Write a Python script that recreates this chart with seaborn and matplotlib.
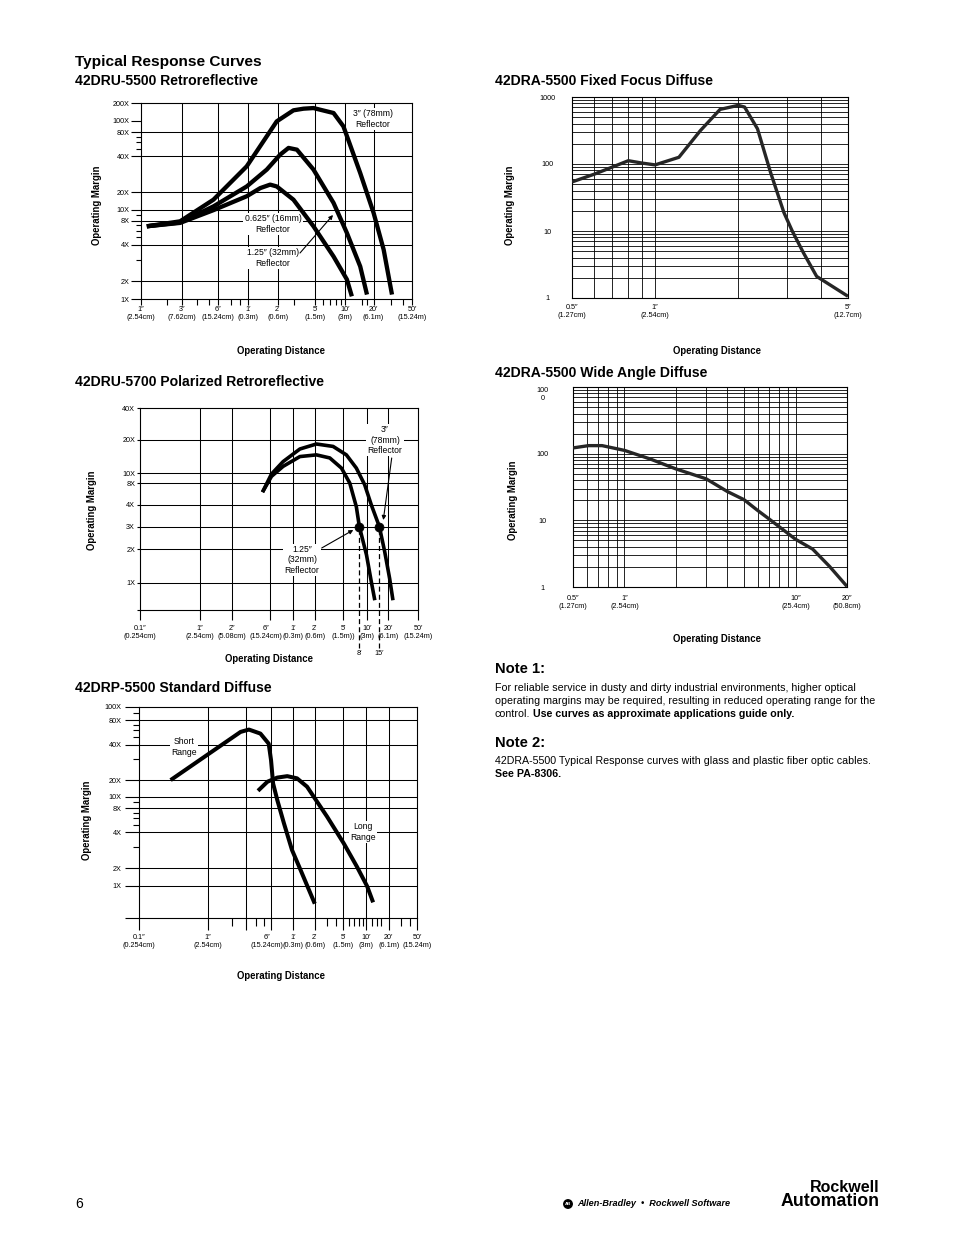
import numpy as np
import pandas as pd
import seaborn as sns
import matplotlib.pyplot as plt
from matplotlib import font_manager
from matplotlib.ticker import NullFormatter
from matplotlib.transforms import blended_transform_factory, ScaledTranslation

sns.set_style("ticks")

installed = {f.name for f in font_manager.fontManager.ttflist}
NARROW = "Liberation Sans Narrow" in installed
REG = ["Liberation Sans", "DejaVu Sans"]
COND = (["Liberation Sans Narrow"] + REG) if NARROW else REG
k = 1.0 if NARROW else 0.82  # narrow face is about 82% as wide

plt.rcParams["font.family"] = COND
plt.rcParams["axes.edgecolor"] = "black"
plt.rcParams["axes.linewidth"] = 0.8
plt.rcParams["xtick.color"] = "black"
plt.rcParams["ytick.color"] = "black"
plt.rcParams["text.color"] = "black"
plt.rcParams["axes.labelcolor"] = "black"

TICK_FS = 6.4 * k
NOTE_FS = 7.6 * k
LAB_FS = 8.5 * k

# ---------------- data (distance in inches, operating margin) ----------------
# 42DRU-5500 Retroreflective
dru55_3in_dist = [1.17, 2.87, 5.46, 11.7, 23.4, 35.2, 45, 57.5, 91.6, 115, 173, 240, 305, 372]
dru55_3in_marg = [6.8, 7.85, 14.9, 33, 98.7, 150, 160, 164, 135, 89.7, 29, 9.35, 3.64, 1.19]
dru55_125_dist = [1.17, 2.87, 5.46, 11.7, 18.6, 25.4, 31.2, 38.3, 57.5, 91.6, 125, 173, 204]
dru55_125_marg = [6.8, 7.6, 11.4, 22.4, 31, 42, 51, 48.5, 31, 13.1, 5.6, 2.65, 1.19]
dru55_0625_dist = [1.17, 2.87, 5.46, 11.7, 16, 20.1, 23.4, 35.2, 57.5, 91.6, 125, 141]
dru55_0625_marg = [6.8, 7.5, 9.9, 17.1, 21.7, 23.2, 22.4, 14.9, 6.8, 3.2, 2.07, 1.11]

# 42DRU-5700 Polarized Retroreflective
dru57_3in_dist = [4.86, 6.3, 8.9, 14.9, 25.3, 43.4, 66, 88, 112, 138, 180, 215, 252, 279]
dru57_3in_marg = [6.0, 9.8, 12.7, 16.5, 18.3, 17.4, 14.6, 11.1, 7.6, 4.0, 3.0, 1.9, 1.09, 0.64]
dru57_125_dist = [4.86, 6.3, 8.9, 14.9, 25.3, 39, 56.9, 72.8, 88, 96, 118, 138, 155]
dru57_125_marg = [6.0, 9.3, 11.5, 14.1, 14.6, 13.7, 11.1, 8.0, 3.9, 3.0, 1.78, 1.02, 0.64]
dru57_point_dist = [96, 180]
dru57_point_marg = [3, 3]
dru57_point_labels = ["8\u2032", "15\u2032"]

# 42DRP-5500 Standard Diffuse
drp_short_dist = [0.286, 2.55, 3.24, 4.5, 5.7, 6.1, 6.5, 7.4, 9.1, 11.7, 15.3, 19.9, 24]
drp_short_marg = [20, 57.4, 61.4, 54.7, 41, 29.5, 17.4, 9.4, 5.2, 2.84, 1.87, 0.92, 0.68]
drp_long_dist = [4.2, 5.5, 7.4, 10.1, 13.7, 18.8, 24, 35.7, 61, 91, 124, 149]
drp_long_marg = [12.8, 18.7, 21, 21.6, 20.7, 15.2, 9.7, 6.3, 3.24, 2.06, 0.99, 0.70]

# 42DRA-5500 Fixed Focus Diffuse
dra_ff_dist = [0.5, 0.605, 0.695, 0.80, 0.9, 1.0, 1.22, 1.46, 1.72, 2.0, 2.11, 2.35, 2.62, 2.93, 3.14, 3.45, 3.85, 5.0]
dra_ff_marg = [54, 71, 89, 112, 103, 97, 126, 316, 653, 750, 708, 335, 75, 18.8, 10, 4.7, 2.1, 1.06]

# 42DRA-5500 Wide Angle Diffuse
dra_wa_dist = [0.5, 0.617, 0.74, 1.0, 1.417, 2.0, 3.0, 4.0, 5.0, 6.0, 7.0, 10, 12.6, 15.8, 20]
dra_wa_marg = [122, 132, 132, 112, 83, 59, 42, 27, 20.4, 14.1, 10.5, 5.2, 3.7, 2.04, 1.02]

# ---------------- printed axes (tick values, labels) ----------------
IN, FT = "\u2033", "\u2032"
c1_xticks = [1, 3, 6, 12, 24, 60, 120, 240, 600]
c1_xlabels = ["1" + IN + "\n(2.54cm)", "3" + IN + "\n(7.62cm)", "6" + IN + "\n(15.24cm)",
              "1" + FT + "\n(0.3m)", "2" + FT + "\n(0.6m)", "5" + FT + "\n(1.5m)",
              "10" + FT + "\n(3m)", "20" + FT + "\n(6.1m)", "50" + FT + "\n(15.24m)"]
c1_xminor = [2, 4, 5, 8, 10, 36, 72, 84, 96, 108, 180, 204, 360, 480]
c1_yticks = [1, 2, 4, 8, 10, 20, 40, 80, 100, 200]
c1_ylabels = ["1X", "2X", "4X", "8X", "10X", "20X", "40X", "80X", "100X", "200X"]
c1_yminor = [3, 5, 6, 7, 9, 50, 60, 70]
c1_hgrid = [2, 4, 8, 10, 20, 40, 80]
c1_vgrid = [3, 6, 12, 24, 60, 120, 240]

c2_xticks = [0.1, 1, 2, 6, 12, 24, 60, 120, 240, 600]
c2_xlabels = ["0.1" + IN + "\n(0.254cm)", "1" + IN + "\n(2.54cm)", "2" + IN + "\n(5.08cm)",
              "6" + IN + "\n(15.24cm)", "1" + FT + "\n(0.3m)", "2" + FT + "\n(0.6m)",
              "5" + FT + "\n(1.5m))", "10" + FT + "\n(3m)", "20" + FT + "\n(6.1m)",
              "50" + FT + "\n(15.24m)"]
c2_yticks = [0.5, 1, 2, 3, 4, 8, 10, 20, 40]
c2_ylabels = ["", "1X", "2X", "3X", "4X", "8X", "10X", "20X", "40X"]
c2_hgrid = [1, 2, 3, 4, 8, 10, 20]
c2_vgrid = [1, 2, 6, 12, 24, 60, 120, 240]

c3_xticks = [0.1, 1, 3, 6, 12, 24, 60, 120, 240, 600]
c3_xlabels = ["0.1" + IN + "\n(0.254cm)", "1" + IN + "\n(2.54cm)", "",
              "6" + IN + "\n(15.24cm)", "1" + FT + "\n(0.3m)", "2" + FT + "\n(0.6m)",
              "5" + FT + "\n(1.5m)", "10" + FT + "\n(3m)", "20" + FT + "\n(6.1m)",
              "50" + FT + "\n(15.24m)"]
c3_xminor = [2, 4, 5, 36, 48, 72, 84, 96, 108, 144, 168, 192, 360, 480]
c3_yticks = [0.5, 1, 2, 4, 8, 10, 20, 40, 80, 100]
c3_ylabels = ["", "1X", "2X", "4X", "8X", "10X", "20X", "40X", "80X", "100X"]
c3_yminor = [3, 5, 6, 7, 9, 30, 50, 60, 70, 90]
c3_hgrid = [1, 2, 4, 8, 10, 20, 40, 80]
c3_vgrid = [1, 3, 6, 12, 24, 60, 120, 240]

c4_xticks = [0.5, 1, 5]
c4_xlabels = ["0.5" + IN + "\n(1.27cm)", "1" + IN + "\n(2.54cm)", "5" + IN + "\n(12.7cm)"]
c4_yticks = [1, 10, 100, 1000]
c4_ylabels = ["1", "10", "100", "1000"]

c5_xticks = [0.5, 1, 10, 20]
c5_xlabels = ["0.5" + IN + "\n(1.27cm)", "1" + IN + "\n(2.54cm)", "10" + IN + "\n(25.4cm)",
              "20" + IN + "\n(50.8cm)"]
c5_yticks = [1, 10, 100, 1000]
c5_ylabels = ["1", "10", "100", "100\n0"]

# where the printed (non-uniform) scales place their ticks, in scan pixels
C1_XPIX = [183, 305, 415, 503, 593, 705, 795, 880, 995]
C1_YPIX = [628, 575, 465, 393, 360, 308, 200, 128, 93, 40]
C2_XPIX = [180, 360, 455, 570, 640, 705, 790, 862, 925, 1015]
C2_YPIX = [645, 563, 463, 395, 330, 265, 235, 135, 40]
C3_XPIX = [175, 383, 497, 570, 637, 703, 788, 857, 925, 1010]
C3_YPIX = [655, 558, 505, 397, 325, 290, 240, 133, 60, 20]

# ---------------- figure ----------------
W, H = 954, 1235
fig = plt.figure(figsize=(W / 100, H / 100), dpi=100)
fig.patch.set_facecolor("white")


def px(x, y):
    return x / W, 1 - y / H


def make_axes(rect):
    l, t, r, b = rect
    return fig.add_axes([l / W, 1 - b / H, (r - l) / W, (b - t) / H])


def frac(rect, x, y):
    l, t, r, b = rect
    return (x - l) / (r - l), (b - y) / (b - t)


def printed_scale(ax, axis, vals, pix):
    lv = np.log10(vals)
    p = np.asarray(pix, float) * (1 if axis == "x" else -1)

    def fwd(v):
        return np.interp(np.log10(np.maximum(v, 1e-9)), lv, p)

    def inv(q):
        return 10 ** np.interp(q, p, lv)

    getattr(ax, "set_%sscale" % axis)("function", functions=(fwd, inv))


def curves(ax, series, lw, color="black"):
    rows = []
    for name, d, m in series:
        for a, b in zip(d, m):
            rows.append({"curve": name, "dist": a, "margin": b})
    df = pd.DataFrame(rows)
    sns.lineplot(data=df, x="dist", y="margin", hue="curve", palette=[color] * len(series),
                 estimator=None, sort=False, legend=False, lw=lw, ax=ax, zorder=5,
                 solid_joinstyle="round", solid_capstyle="butt")


def labels(ax, rect, xl, yl):
    ax.set_xlabel("Operating Distance", fontsize=LAB_FS, fontweight="bold")
    ax.set_ylabel("Operating Margin", fontsize=LAB_FS, fontweight="bold")
    ax.xaxis.set_label_coords(*frac(rect, *xl))
    ax.yaxis.set_label_coords(*frac(rect, *yl))
    ax.xaxis.label.set_va("center")
    ax.yaxis.label.set_va("center")


def grid_lines(ax, hs, vs, lw=0.75):
    for v in hs:
        ax.axhline(v, color="black", lw=lw, zorder=1)
    for v in vs:
        ax.axvline(v, color="black", lw=lw, zorder=1)


def note(ax, x, y, s, **kw):
    ax.text(x, y, s, transform=ax.transAxes, ha="center", va="center", fontsize=NOTE_FS,
            linespacing=1.15, zorder=4, bbox=dict(fc="white", ec="none", pad=1.2), **kw)


def arrow(ax, tail, head):
    ax.annotate("", xy=head, xytext=tail, xycoords="axes fraction", textcoords="axes fraction",
                arrowprops=dict(arrowstyle="-|>", color="black", lw=0.8, mutation_scale=6,
                                shrinkA=0, shrinkB=0), zorder=6)


def nudge_xlabel(ax, idx, dx_px):
    lab = ax.get_xticklabels()[idx]
    lab.set_transform(lab.get_transform() + ScaledTranslation(dx_px / 100, 0, fig.dpi_scale_trans))


# ---- 42DRU-5500 Retroreflective ----
R1 = (141, 103, 412, 299)
ax1 = make_axes(R1)
printed_scale(ax1, "x", c1_xticks, C1_XPIX)
printed_scale(ax1, "y", c1_yticks, C1_YPIX)
curves(ax1, [("3in", dru55_3in_dist, dru55_3in_marg),
             ("1.25in", dru55_125_dist, dru55_125_marg),
             ("0.625in", dru55_0625_dist, dru55_0625_marg)], lw=3.1)
ax1.set_xlim(1, 600)
ax1.set_ylim(1, 200)
ax1.set_xticks(c1_xticks, c1_xlabels)
ax1.set_xticks(c1_xminor, minor=True)
ax1.set_yticks(c1_yticks, c1_ylabels)
ax1.set_yticks(c1_yminor, minor=True)
ax1.tick_params(axis="x", which="both", length=4.3, width=0.8, pad=1, labelsize=TICK_FS)
ax1.tick_params(axis="y", which="major", length=7, width=0.8, pad=1.2, labelsize=TICK_FS)
ax1.tick_params(axis="y", which="minor", length=3.6, width=0.8)
grid_lines(ax1, c1_hgrid, c1_vgrid)
labels(ax1, R1, (281, 351), (97, 205))
note(ax1, *frac(R1, 373, 119), "3\u2033 (78mm)\nReflector")
note(ax1, *frac(R1, 273, 224), "0.625\u2033 (16mm)\nReflector")
note(ax1, *frac(R1, 273, 258), "1.25\u2033 (32mm)\nReflector")
arrow(ax1, frac(R1, 300, 253), frac(R1, 333, 215))

# ---- 42DRU-5700 Polarized Retroreflective ----
R2 = (140, 408, 418, 610)
ax2 = make_axes(R2)
printed_scale(ax2, "x", c2_xticks, C2_XPIX)
printed_scale(ax2, "y", c2_yticks, C2_YPIX)
curves(ax2, [("3in", dru57_3in_dist, dru57_3in_marg),
             ("1.25in", dru57_125_dist, dru57_125_marg)], lw=2.6)
ax2.set_xlim(0.1, 600)
ax2.set_ylim(0.5, 40)
ax2.set_xticks(c2_xticks, c2_xlabels)
ax2.set_yticks(c2_yticks, c2_ylabels)
ax2.tick_params(axis="x", length=7, width=0.8, pad=4, labelsize=TICK_FS)
ax2.tick_params(axis="y", length=2.5, width=0.8, pad=1, labelsize=TICK_FS)
grid_lines(ax2, c2_hgrid, c2_vgrid)
sns.scatterplot(x=dru57_point_dist, y=dru57_point_marg, color="black", s=42, ax=ax2,
                zorder=7, edgecolor="black", legend=False)
bt = blended_transform_factory(ax2.transData, ax2.transAxes)
for d, m, lab in zip(dru57_point_dist, dru57_point_marg, dru57_point_labels):
    y_top = ax2.transAxes.inverted().transform(ax2.transData.transform((d, m)))[1]
    ax2.plot([d, d], [-0.188, y_top], transform=bt, clip_on=False, color="black",
             lw=0.9, ls=(0, (4, 2.5)), zorder=6)
    ax2.text(d, -0.2, lab, transform=bt, ha="center", va="top", fontsize=TICK_FS, clip_on=False)
labels(ax2, R2, (269, 659), (92, 510))
note(ax2, *frac(R2, 385, 440), "3\u2033\n(78mm)\nReflector")
note(ax2, *frac(R2, 302, 560), "1.25\u2033\n(32mm)\nReflector")
arrow(ax2, frac(R2, 391.7, 458), frac(R2, 383.3, 520))
arrow(ax2, frac(R2, 321.7, 548), frac(R2, 353.3, 530))

# ---- 42DRP-5500 Standard Diffuse ----
R3 = (139, 707, 417, 918)
ax3 = make_axes(R3)
printed_scale(ax3, "x", c3_xticks, C3_XPIX)
printed_scale(ax3, "y", c3_yticks, C3_YPIX)
curves(ax3, [("short", drp_short_dist, drp_short_marg),
             ("long", drp_long_dist, drp_long_marg)], lw=2.9)
ax3.set_xlim(0.1, 600)
ax3.set_ylim(0.5, 100)
ax3.set_xticks(c3_xticks, c3_xlabels)
ax3.set_xticks(c3_xminor, minor=True)
ax3.set_yticks(c3_yticks, c3_ylabels)
ax3.set_yticks(c3_yminor, minor=True)
ax3.tick_params(axis="x", which="major", length=8.5, width=0.8, pad=3, labelsize=TICK_FS)
ax3.tick_params(axis="x", which="minor", length=6, width=0.8)
ax3.tick_params(axis="y", which="major", length=10, width=0.8, pad=2.5, labelsize=TICK_FS)
ax3.tick_params(axis="y", which="minor", length=4.3, width=0.8)
grid_lines(ax3, c3_hgrid, c3_vgrid)
labels(ax3, R3, (281, 976), (87, 820))
note(ax3, *frac(R3, 184, 747), "Short\nRange")
note(ax3, *frac(R3, 363, 832), "Long\nRange")

# the printed 6" labels sit a little left of their ticks
nudge_xlabel(ax2, 3, -4)
nudge_xlabel(ax3, 3, -4)


# ---- 42DRA-5500 charts (true log grids) ----
def log_chart(rect, dist, marg, xt, xl, yt, yl, xlim, xpad, ypad, xlab, ylab):
    ax = make_axes(rect)
    ax.set_xscale("log")
    ax.set_yscale("log")
    curves(ax, [("c", dist, marg)], lw=2.4, color="#262626")
    ax.set_xlim(*xlim)
    ax.set_ylim(1, 1000)
    ax.set_xticks(xt, xl)
    ax.set_yticks(yt, yl)
    ax.xaxis.set_minor_formatter(NullFormatter())
    ax.yaxis.set_minor_formatter(NullFormatter())
    ax.tick_params(axis="both", which="both", length=0, labelsize=TICK_FS)
    ax.tick_params(axis="x", pad=xpad)
    ax.tick_params(axis="y", pad=ypad)
    for t in ax.get_yticklabels():
        t.set_ha("center")
    ax.grid(True, which="both", color="black", lw=0.6, zorder=1)
    labels(ax, rect, xlab, ylab)
    return ax


R4 = (572, 97, 848, 298)
ax4 = log_chart(R4, dra_ff_dist, dra_ff_marg, c4_xticks, c4_xlabels, c4_yticks, c4_ylabels,
                (0.5, 5), 4.5, 18, (717, 351), (510, 205))
R5 = (573, 387, 847, 587)
ax5 = log_chart(R5, dra_wa_dist, dra_wa_marg, c5_xticks, c5_xlabels, c5_yticks, c5_ylabels,
                (0.5, 20), 6, 22, (717, 639), (513, 500))
ax5.get_yticklabels()[-1].set_va("top")

# ---------------- page text ----------------
fig.text(*px(75, 62), "Typical Response Curves", fontsize=11.1, fontweight="bold", family=REG, va="center")
heads = [((75, 81), "42DRU-5500 Retroreflective"),
         ((495, 81), "42DRA-5500 Fixed Focus Diffuse"),
         ((75, 382), "42DRU-5700 Polarized Retroreflective"),
         ((495, 373), "42DRA-5500 Wide Angle Diffuse"),
         ((75, 688), "42DRP-5500 Standard Diffuse")]
for (x, y), s in heads:
    fig.text(*px(x, y), s, fontsize=10.1, fontweight="bold", family=REG, va="center")

BODY = 7.65
NOTE_HEAD = 10.6
fig.text(*px(495, 669), "Note 1:", fontsize=NOTE_HEAD, fontweight="bold", family=REG, va="center")
fig.text(*px(495, 688), "For reliable service in dusty and dirty industrial environments, higher optical",
         fontsize=BODY, family=REG, va="center")
fig.text(*px(495, 701), "operating margins may be required, resulting in reduced operating range for the",
         fontsize=BODY, family=REG, va="center")
t = fig.text(*px(495, 714), "control.", fontsize=BODY, family=REG, va="center")
bb = t.get_window_extent(renderer=fig.canvas.get_renderer())
fig.text((bb.x1 + 3) / W, 1 - 714 / H, "Use curves as approximate applications guide only.",
         fontsize=BODY, fontweight="bold", family=REG, va="center")
fig.text(*px(495, 743), "Note 2:", fontsize=NOTE_HEAD, fontweight="bold", family=REG, va="center")
fig.text(*px(495, 761), "42DRA-5500 Typical Response curves with glass and plastic fiber optic cables.",
         fontsize=BODY, family=REG, va="center")
fig.text(*px(495, 774), "See PA-8306.", fontsize=BODY, fontweight="bold", family=REG, va="center")

# footer
fig.text(*px(75, 1204), "6", fontsize=10, family=REG, va="center")
fig.text(*px(568, 1204), "AB", fontsize=3.2, fontweight="bold", color="white", family=REG,
         ha="center", va="center", bbox=dict(boxstyle="circle,pad=0.25", fc="black", ec="black"))
fig.text(*px(577, 1204), "Allen-Bradley  \u2022  Rockwell Software", fontsize=6.6, fontweight="bold",
         fontstyle="italic", family=REG, va="center")
fig.text(*px(880, 1187), "Rockwell", fontsize=11.5, fontweight="bold", family=REG, ha="right", va="center")
fig.text(*px(880, 1201), "Automation", fontsize=12.8, fontweight="bold", family=REG, ha="right", va="center")

fig.savefig("out.png", dpi=100, facecolor="white")
